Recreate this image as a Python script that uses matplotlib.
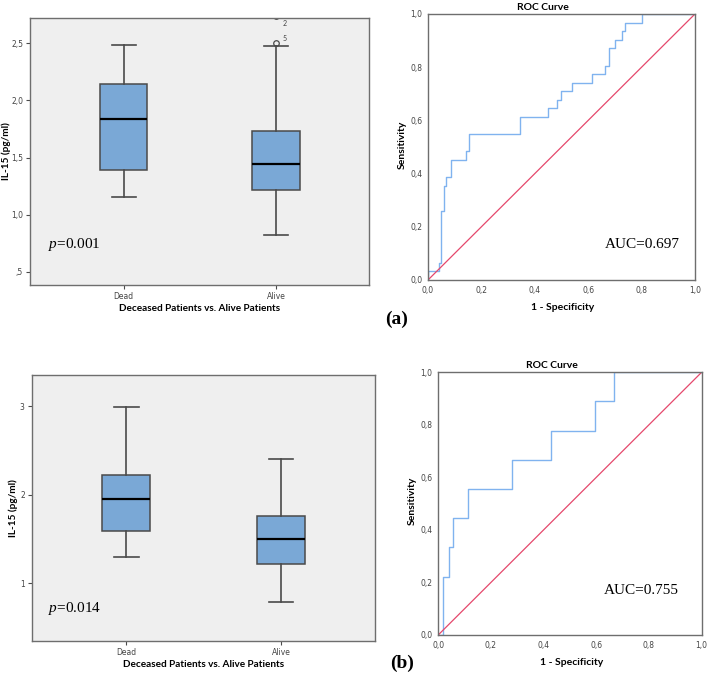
import matplotlib
matplotlib.use('Agg')
import matplotlib.pyplot as plt

plt.rcParams['mathtext.fontset'] = 'custom'
plt.rcParams['mathtext.rm'] = 'Liberation Serif'
plt.rcParams['mathtext.it'] = 'Liberation Serif:italic'

# Box plot summaries (whisker low, Q1, median, Q3, whisker high)
groups = ['Dead', 'Alive']
stats_a = [[1.155, 1.39, 1.84, 2.14, 2.485],
           [0.825, 1.22, 1.44, 1.735, 2.474]]
fliers_a = [[], [2.505, 2.74]]
flier_ids_a = ['5', '2']
stats_b = [[1.30, 1.593, 1.951, 2.226, 2.99],
           [0.785, 1.217, 1.503, 1.756, 2.403]]

yticks_a = [0.5, 1.0, 1.5, 2.0, 2.5]
yticklabels_a = [',5', '1,0', '1,5', '2,0', '2,5']
yticks_b = [1, 2, 3]
yticklabels_b = ['1', '2', '3']

p_a = '0.001'
p_b = '0.014'

# ROC curves (step points)
fpr_a = [0, 0, 0.040, 0.050, 0.060, 0.069, 0.085, 0.144, 0.152, 0.343, 0.448,
         0.483, 0.500, 0.539, 0.614, 0.662, 0.678, 0.700, 0.727, 0.737, 0.803, 1.0]
tpr_a = [0, 0.032, 0.065, 0.258, 0.355, 0.387, 0.452, 0.484, 0.548, 0.613, 0.645,
         0.677, 0.710, 0.742, 0.774, 0.806, 0.871, 0.903, 0.935, 0.968, 1.0, 1.0]
fpr_b = [0, 0.019, 0.039, 0.057, 0.114, 0.280, 0.427, 0.595, 0.668, 1.0]
tpr_b = [0, 0.222, 0.333, 0.444, 0.556, 0.667, 0.778, 0.889, 1.0, 1.0]
auc_a = '0.697'
auc_b = '0.755'

roc_ticks = [0, 0.2, 0.4, 0.6, 0.8, 1.0]
roc_ticklabels = ['0,0', '0,2', '0,4', '0,6', '0,8', '1,0']

BOX_BG = '#efefef'
BOX_FACE = '#7aa8d6'
DARK = '#4a4a4a'
FRAME = '#6e6e6e'
TICKC = '#444444'
LABEL_FONT = 'Lato'
LABEL_SIZE = 7.2

fig = plt.figure(figsize=(7.08, 6.76), dpi=100)


def box_panel(rect, stats, ylim, yticks, yticklabels, ptxt, ppos, xlab_y, ylab_x, fliers=None):
    ax = fig.add_axes(rect)
    ax.set_facecolor(BOX_BG)
    bxp_stats = []
    for name, s in zip(groups, stats):
        bxp_stats.append(dict(label=name, whislo=s[0], q1=s[1], med=s[2], q3=s[3], whishi=s[4],
                              fliers=[]))
    ax.bxp(bxp_stats, positions=[1, 2], widths=0.31, patch_artist=True, showfliers=False,
           boxprops=dict(facecolor=BOX_FACE, edgecolor=DARK, linewidth=1.1),
           whiskerprops=dict(color=DARK, linewidth=1.2),
           capprops=dict(color=DARK, linewidth=1.2),
           medianprops=dict(color='black', linewidth=1.6),
           capwidths=0.157)
    if fliers is not None:
        for pos, fl in zip([1, 2], fliers):
            if fl:
                ax.plot([pos] * len(fl), fl, 'o', mfc='none', mec=DARK, ms=4, mew=0.9)
                for v, lab in zip(fl, flier_ids_a):
                    ty = v + 0.035 if lab == '5' else 2.67
                    ax.text(pos + 0.04, ty, lab, fontsize=5, color=TICKC, ha='left', va='center',
                            family=LABEL_FONT)
    ax.set_xlim(0.387, 2.609)
    ax.set_ylim(*ylim)
    ax.set_yticks(yticks)
    ax.set_yticklabels(yticklabels)
    ax.set_xticks([1, 2])
    ax.set_xticklabels(groups)
    ax.tick_params(labelsize=5.5, colors=DARK, labelcolor=TICKC, length=3, width=0.8, pad=2)
    for sp in ax.spines.values():
        sp.set_color(FRAME)
        sp.set_linewidth(1.0)
    ax.set_xlabel('Deceased Patients vs. Alive Patients', fontsize=LABEL_SIZE, fontweight='bold',
                  family=LABEL_FONT)
    ax.xaxis.set_label_coords(0.5, xlab_y)
    ax.set_ylabel('IL-15 (pg/ml)', fontsize=LABEL_SIZE, fontweight='bold', family=LABEL_FONT)
    ax.yaxis.set_label_coords(ylab_x, 0.5)
    ax.text(ppos[0], ppos[1], r'$\mathit{p}$=' + ptxt, transform=ax.transAxes, fontsize=11,
            family='Liberation Serif', ha='left', va='center')
    return ax


def roc_panel(rect, fpr, tpr, auc, auc_pos, xlab_y, ylab_x):
    ax = fig.add_axes(rect)
    ax.plot(fpr, tpr, drawstyle='steps-post', color='#80b3ef', linewidth=1.0)
    ax.plot([0, 1], [0, 1], color='#e5486c', linewidth=0.9)
    ax.set_xlim(0, 1)
    ax.set_ylim(0, 1)
    ax.set_xticks(roc_ticks)
    ax.set_xticklabels(roc_ticklabels)
    ax.set_yticks(roc_ticks)
    ax.set_yticklabels(roc_ticklabels)
    ax.tick_params(labelsize=5.5, labelcolor=TICKC, length=0, pad=4)
    for sp in ax.spines.values():
        sp.set_color(FRAME)
        sp.set_linewidth(1.0)
    ax.text(0.43, 1.026, 'ROC Curve', transform=ax.transAxes, fontsize=LABEL_SIZE + 0.3,
            fontweight='bold', family=LABEL_FONT, ha='center', va='center')
    ax.set_xlabel('1 - Specificity', fontsize=LABEL_SIZE + 0.3, fontweight='bold', family=LABEL_FONT)
    ax.xaxis.set_label_coords(0.505, xlab_y)
    ax.set_ylabel('Sensitivity', fontsize=LABEL_SIZE + 0.3, fontweight='bold', family=LABEL_FONT)
    ax.yaxis.set_label_coords(ylab_x, 0.51)
    ax.text(auc_pos[0], auc_pos[1], 'AUC=' + auc, transform=ax.transAxes, fontsize=11,
            family='Liberation Serif', ha='center', va='center')
    return ax


box_panel([0.0424, 0.5784, 0.4788, 0.395], stats_a, (0.386, 2.72), yticks_a, yticklabels_a,
          p_a, (0.053, 0.15), -0.071, -0.056, fliers=fliers_a)
roc_panel([0.6045, 0.5858, 0.3771, 0.3935], fpr_a, tpr_a, auc_a, (0.803, 0.132), -0.087, -0.079)

box_panel([0.0448, 0.0522, 0.4849, 0.393], stats_b, (0.351, 3.354), yticks_b, yticklabels_b,
          p_b, (0.047, 0.123), -0.071, -0.04)
roc_panel([0.619, 0.0607, 0.372, 0.3886], fpr_b, tpr_b, auc_b, (0.773, 0.1675), -0.087, -0.081)

fig.text(397 / 708, 1 - 319 / 676, '(a)', fontsize=14, fontweight='bold', family='Liberation Serif',
         ha='center', va='center')
fig.text(402 / 708, 1 - 663 / 676, '(b)', fontsize=14, fontweight='bold', family='Liberation Serif',
         ha='center', va='center')

fig.savefig('out.png', dpi=100)
